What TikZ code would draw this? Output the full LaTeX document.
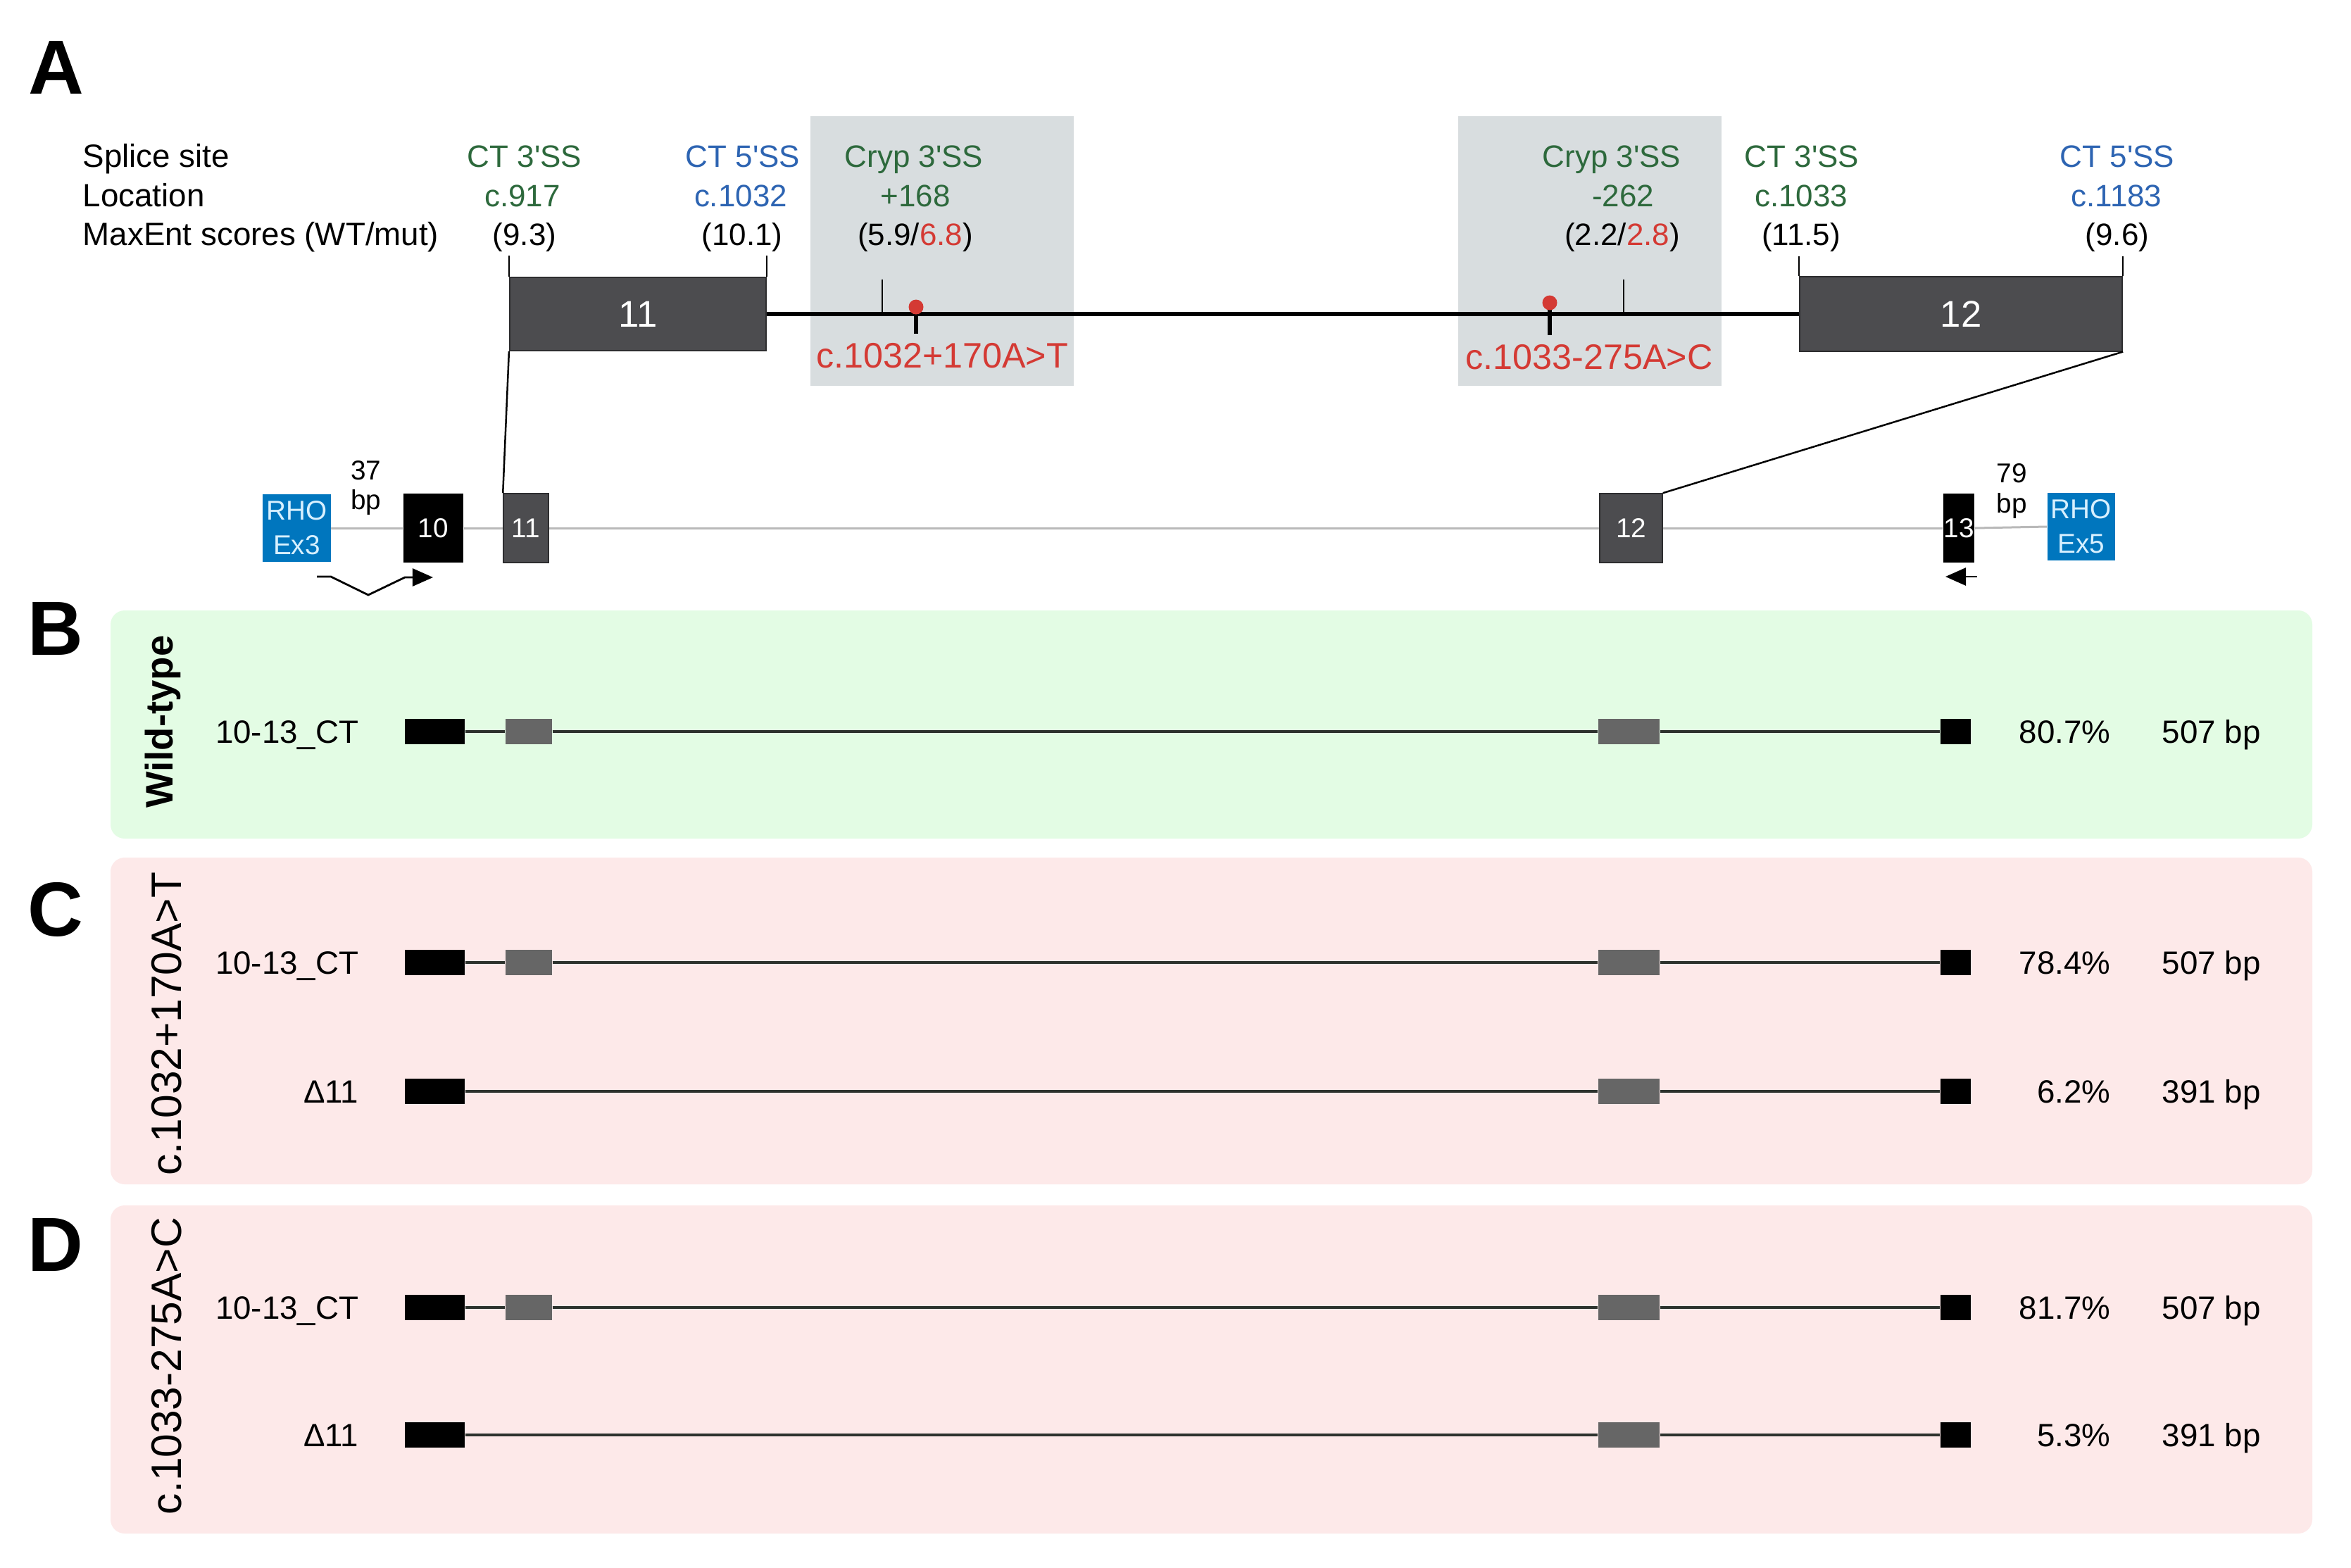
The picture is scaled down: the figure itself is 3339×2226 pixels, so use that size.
\documentclass[tikz,border=0pt]{standalone}
\usepackage{fontspec}
\setmainfont{Liberation Sans}
\usetikzlibrary{arrows.meta}
\definecolor{ctgreen}{RGB}{45,105,60}
\definecolor{ctblue}{RGB}{45,100,178}
\definecolor{mutred}{RGB}{212,58,52}
\definecolor{shadegray}{RGB}{216,221,223}
\definecolor{exgray}{RGB}{76,76,79}
\definecolor{exborder}{RGB}{45,45,47}
\definecolor{rowgray}{RGB}{102,102,102}
\definecolor{rhoblue}{RGB}{0,118,190}
\definecolor{rhotext}{RGB}{215,240,255}
\definecolor{genegray}{RGB}{185,185,185}
\definecolor{bgreen}{RGB}{227,252,228}
\definecolor{cpink}{RGB}{253,233,233}
\definecolor{rowline}{RGB}{45,50,45}
\newcommand{\fsz}[1]{\fontsize{#1}{#1}\selectfont}
\newcommand{\ap}{\textquotesingle}
\newcommand{\rowtext}[5]{%
  \node[lab, anchor=base east] (#1lab) at (510,{#2+16}) {#3};
  \node[lab, anchor=base east] (#1pct) at (2998,{#2+16}) {#4};
  \node[lab, anchor=base west] (#1bp) at (3070,{#2+16}) {#5};}
\newcommand{\rowfull}[2]{%
  \node[rblk, minimum width=0.85cm] (#1xa) at (617.5,#2) {};
  \node[rgry, minimum width=0.66cm] (#1xb) at (751,#2) {};
  \node[rgry, minimum width=0.87cm] (#1xc) at (2313.5,#2) {};
  \node[rblk, minimum width=0.43cm] (#1xd) at (2777.5,#2) {};
  \draw[rline] (#1xa) -- (#1xb) (#1xb) -- (#1xc) (#1xc) -- (#1xd);}
\newcommand{\rowskip}[2]{%
  \node[rblk, minimum width=0.85cm] (#1xa) at (617.5,#2) {};
  \node[rgry, minimum width=0.87cm] (#1xc) at (2313.5,#2) {};
  \node[rblk, minimum width=0.43cm] (#1xd) at (2777.5,#2) {};
  \draw[rline] (#1xa) -- (#1xc) (#1xc) -- (#1xd);}
\begin{document}
\begin{tikzpicture}[x=0.01cm,y=-0.01cm,
  lab/.style={font=\fsz{13}, inner sep=0pt},
  colt/.style={font=\fsz{12.5}, inner sep=0pt, anchor=base},
  panlet/.style={font=\fsz{31}\bfseries, inner sep=0pt},
  bigex/.style={draw=exborder, line width=0.02cm, fill=exgray, text=white, font=\fsz{15}, inner sep=0pt},
  smex/.style={draw=exborder, line width=0.015cm, fill=exgray, text=white, font=\fsz{11}, inner sep=0pt, minimum height=0.98cm},
  blkex/.style={fill=black, text=white, font=\fsz{11}, inner sep=0pt, minimum height=0.98cm},
  rhobox/.style={fill=rhoblue, text=rhotext, font=\fontsize{11}{13.9}\selectfont, align=center, inner sep=0pt, minimum width=0.96cm, minimum height=0.96cm},
  tick/.style={line width=0.022cm, black},
  intron/.style={line width=0.065cm, black},
  gline/.style={line width=0.03cm, genegray},
  conn/.style={line width=0.025cm, black},
  primer/.style={line width=0.028cm, black, -{Triangle[length=0.29cm,width=0.25cm]}},
  rblk/.style={fill=black, inner sep=0pt, minimum height=0.36cm},
  rgry/.style={fill=rowgray, inner sep=0pt, minimum height=0.36cm},
  rline/.style={line width=0.035cm, rowline},
  redlab/.style={font=\fsz{14.3}, text=mutred, inner sep=0pt},
  vlab/.style={font=\fsz{17.2}, rotate=90, inner sep=0pt},
  panel/.style={rounded corners=0.2cm}]
\useasboundingbox (0,0) rectangle (3339,2226);
\fill[white] (0,0) rectangle (3339,2226);

% ---------- panel A ----------
\fill[shadegray] (1151,165) rectangle (1525,548);
\fill[shadegray] (2071,165) rectangle (2445,548);

\node[panlet] (lA) at (80,96) {A};

\node[lab, anchor=base west] (hs) at (117,237) {Splice site};
\node[lab, anchor=base west] (hl) at (117,293) {Location};
\node[lab, anchor=base west] (hm) at (117,348) {MaxEnt scores (WT/mut)};

% columns
\node[colt, text=ctgreen] (c1a) at (745,237) {CT 3\ap SS};
\node[colt, text=ctgreen] (c1b) at (742,293) {c.917};
\node[colt] (c1c) at (745,348) {(9.3)};

\node[colt, text=ctblue] (c2a) at (1055,237) {CT 5\ap SS};
\node[colt, text=ctblue] (c2b) at (1052,293) {c.1032};
\node[colt] (c2c) at (1054,348) {(10.1)};

\node[colt, text=ctgreen] (c3a) at (1298,237) {Cryp 3\ap SS};
\node[colt, text=ctgreen] (c3b) at (1300,293) {+168};
\node[colt] (c3c) at (1300,348) {(5.9/\textcolor{mutred}{6.8})};

\node[colt, text=ctgreen] (c4a) at (2289,237) {Cryp 3\ap SS};
\node[colt, text=ctgreen] (c4b) at (2305,293) {-262};
\node[colt] (c4c) at (2304,348) {(2.2/\textcolor{mutred}{2.8})};

\node[colt, text=ctgreen] (c5a) at (2559,237) {CT 3\ap SS};
\node[colt, text=ctgreen] (c5b) at (2558,293) {c.1033};
\node[colt] (c5c) at (2558,348) {(11.5)};

\node[colt, text=ctblue] (c6a) at (3007,237) {CT 5\ap SS};
\node[colt, text=ctblue] (c6b) at (3006,293) {c.1183};
\node[colt] (c6c) at (3007,348) {(9.6)};

% big exons
\node[bigex, minimum width=3.64cm, minimum height=1.04cm] (E11) at (906,446) {11};
\node[bigex, minimum width=4.58cm, minimum height=1.05cm] (E12) at (2785,446) {12};
\draw[intron] (E11.east) -- (E12.west);
\draw[tick] (E11.north west) -- ++(0,-30);
\draw[tick] (E11.north east) -- ++(0,-30);
\draw[tick] (E12.north west) -- ++(0,-28);
\draw[tick] (E12.north east) -- ++(0,-28);
% cryptic sites
\draw[tick] (1253,397) -- (1253,445);
\draw[tick] (2306,397) -- (2306,445);
% variants
\draw[line width=0.06cm] (1301,437) -- (1301,474);
\fill[mutred] (1301,436) circle (0.105cm);
\draw[line width=0.06cm] (2201,430) -- (2201,476);
\fill[mutred] (2201,430) circle (0.105cm);
\node[redlab] (v1) at (1338,505) {c.1032+170A>T};
\node[redlab] (v2) at (2257,507) {c.1033-275A>C};

% minigene structure
\node[rhobox] (rho3) at (421.5,750) {RHO\\Ex3};
\node[blkex, minimum width=0.85cm] (e10) at (615.5,750) {10};
\node[smex, minimum width=0.64cm] (e11) at (747,750) {11};
\node[smex, minimum width=0.89cm] (e12) at (2316.5,750) {12};
\node[blkex, minimum width=0.44cm] (e13) at (2782,750) {13};
\node[rhobox] (rho5) at (2955.5,748) {RHO\\Ex5};
\draw[gline] (rho3.east) -- (e10.west);
\draw[gline] (e10.east) -- (e11.west);
\draw[gline] (e11.east) -- (e12.west);
\draw[gline] (e12.east) -- (e13.west);
\draw[gline] (e13.east) -- (rho5.west);
\node[font=\fsz{11}, inner sep=0pt, anchor=base] (s37a) at (520,681) {37};
\node[font=\fsz{11}, inner sep=0pt, anchor=base] (s37b) at (520,723) {bp};
\node[font=\fsz{11}, inner sep=0pt, anchor=base] (s79a) at (2857,685) {79};
\node[font=\fsz{11}, inner sep=0pt, anchor=base] (s79b) at (2857,728) {bp};
% zoom connectors
\draw[conn] (E11.south west) -- (e11.north west);
\draw[conn] (E12.south east) -- (e12.north east);
% primers
\coordinate (pf0) at (450,819);
\coordinate (pf1) at (615,820);
\draw[primer] (pf0) -- (470,819) -- (523,845) -- (575,820) -- (pf1);
\coordinate (pr0) at (2808,819);
\coordinate (pr1) at (2763,819);
\draw[primer] (pr0) -- (pr1);

% ---------- panel B ----------
\fill[bgreen, panel] (157,867) rectangle (3284,1191);
\node[panlet] (lB) at (79,893) {B};
\node[vlab, font=\fsz{15.5}\bfseries] (wt) at (231,1025) {Wild-type};
\rowfull{b1}{1039}
\rowtext{b1}{1039}{10-13\_CT}{80.7\%}{507 bp}

% ---------- panel C ----------
\fill[cpink, panel] (157,1218) rectangle (3284,1682);
\node[panlet] (lC) at (79,1292) {C};
\node[vlab] (mc) at (237,1454) {c.1032+170A>T};
\rowfull{c1}{1367}
\rowtext{c1}{1367}{10-13\_CT}{78.4\%}{507 bp}
\rowskip{c2}{1550}
\rowtext{c2}{1550}{Δ11}{6.2\%}{391 bp}

% ---------- panel D ----------
\fill[cpink, panel] (157,1712) rectangle (3284,2178);
\node[panlet] (lD) at (79,1768) {D};
\node[vlab] (md) at (237,1940) {c.1033-275A>C};
\rowfull{d1}{1857}
\rowtext{d1}{1857}{10-13\_CT}{81.7\%}{507 bp}
\rowskip{d2}{2038}
\rowtext{d2}{2038}{Δ11}{5.3\%}{391 bp}
\end{tikzpicture}
\end{document}
